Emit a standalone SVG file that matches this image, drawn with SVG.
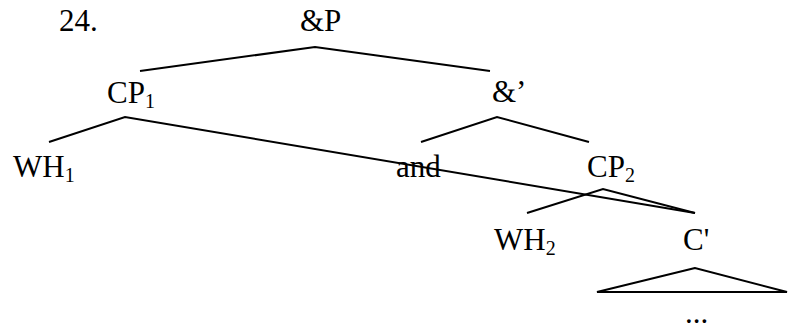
<svg xmlns="http://www.w3.org/2000/svg" width="788" height="329" viewBox="0 0 788 329">
<style>
text{font-family:"Liberation Serif","Times New Roman",serif;font-size:31px;fill:#000}
.sub{font-size:20px}
.e{stroke:#000;stroke-width:2;fill:none}
</style>
<rect width="788" height="329" fill="#fff"/>
<g id="label"><text x="59" y="31">24.</text></g>
<g id="andP"><text x="300" y="31">&amp;P</text></g>
<g id="CP1"><text x="107" y="103">CP<tspan class="sub" dy="5">1</tspan></text></g>
<g id="andbar"><text x="492" y="102">&amp;’</text></g>
<g id="WH1"><text x="13" y="177">WH<tspan class="sub" dy="5">1</tspan></text></g>
<g id="and"><text x="396" y="177">and</text></g>
<g id="CP2"><text x="587" y="177">CP<tspan class="sub" dy="5">2</tspan></text></g>
<g id="WH2"><text x="494" y="250">WH<tspan class="sub" dy="5">2</tspan></text></g>
<g id="Cbar"><text x="683" y="250">C'</text></g>
<g id="dots"><text x="685" y="323">...</text></g>
<g id="connectors">
<polyline class="e" points="140,71 315,47 490,71"/>
<polyline class="e" points="49,142 125,117 695,213"/>
<polyline class="e" points="421,142 497,117 589,142"/>
<polyline class="e" points="527,213 603,189 695,213"/>
<polygon class="e" points="695,268 597,292 787,292"/>
</g>
</svg>
